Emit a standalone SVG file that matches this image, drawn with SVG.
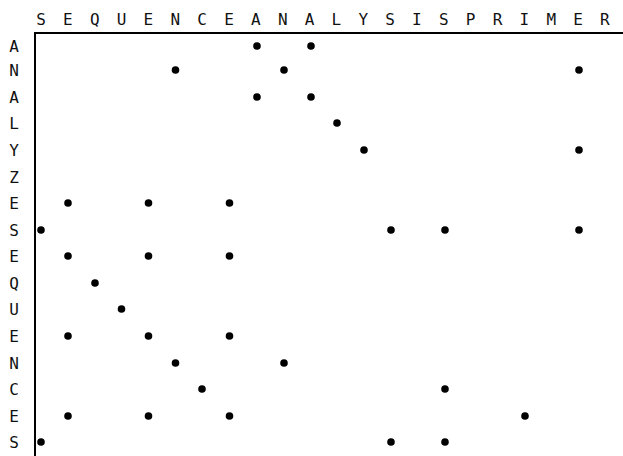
<svg xmlns="http://www.w3.org/2000/svg" width="623" height="456" viewBox="0 0 623 456">
  <style>
    .lbl { font-family: "DejaVu Sans Mono", "Liberation Mono", monospace; font-size: 16px; fill: #111; text-anchor: middle; }
    .axis { stroke: #000; stroke-width: 2; fill: none; }
    .dot { fill: #000; }
  </style>
  <rect width="623" height="456" fill="#fff"/>
  <!-- column sequence -->
  <g id="top-sequence" class="lbl">
    <text x="41" y="25">S</text>
    <text x="67.9" y="25">E</text>
    <text x="94.7" y="25">Q</text>
    <text x="121.6" y="25">U</text>
    <text x="148.4" y="25">E</text>
    <text x="175.3" y="25">N</text>
    <text x="202.1" y="25">C</text>
    <text x="229" y="25">E</text>
    <text x="255.8" y="25">A</text>
    <text x="282.7" y="25">N</text>
    <text x="309.5" y="25">A</text>
    <text x="336.4" y="25">L</text>
    <text x="363.2" y="25">Y</text>
    <text x="390.1" y="25">S</text>
    <text x="416.9" y="25">I</text>
    <text x="443.8" y="25">S</text>
    <text x="470.6" y="25">P</text>
    <text x="497.5" y="25">R</text>
    <text x="524.3" y="25">I</text>
    <text x="551.2" y="25">M</text>
    <text x="578" y="25">E</text>
    <text x="604.9" y="25">R</text>
  </g>
  <!-- row sequence -->
  <g id="left-sequence" class="lbl">
    <text x="14" y="52">A</text>
    <text x="14" y="76">N</text>
    <text x="14" y="103">A</text>
    <text x="14" y="129">L</text>
    <text x="14" y="156">Y</text>
    <text x="14" y="183">Z</text>
    <text x="14" y="209">E</text>
    <text x="14" y="236">S</text>
    <text x="14" y="262">E</text>
    <text x="14" y="289">Q</text>
    <text x="14" y="315">U</text>
    <text x="14" y="342">E</text>
    <text x="14" y="369">N</text>
    <text x="14" y="395">C</text>
    <text x="14" y="422">E</text>
    <text x="14" y="448">S</text>
  </g>
  <!-- axes -->
  <g id="axes">
    <path class="axis" d="M35 456 V33 H623"/>
  </g>
  <!-- match dots -->
  <g id="dots" class="dot">
    <circle cx="257" cy="46" r="3.8"/>
    <circle cx="311" cy="46" r="3.8"/>

    <circle cx="175.5" cy="70" r="3.8"/>
    <circle cx="284" cy="70" r="3.8"/>
    <circle cx="579" cy="70" r="3.8"/>

    <circle cx="257" cy="97" r="3.8"/>
    <circle cx="311" cy="97" r="3.8"/>

    <circle cx="337" cy="123" r="3.8"/>

    <circle cx="364" cy="150" r="3.8"/>
    <circle cx="579" cy="150" r="3.8"/>

    <circle cx="68" cy="203" r="3.8"/>
    <circle cx="148.5" cy="203" r="3.8"/>
    <circle cx="229.5" cy="203" r="3.8"/>

    <circle cx="41" cy="230" r="3.8"/>
    <circle cx="391" cy="230" r="3.8"/>
    <circle cx="445" cy="230" r="3.8"/>
    <circle cx="579" cy="230" r="3.8"/>

    <circle cx="68" cy="256" r="3.8"/>
    <circle cx="148.5" cy="256" r="3.8"/>
    <circle cx="229.5" cy="256" r="3.8"/>

    <circle cx="95" cy="283" r="3.8"/>

    <circle cx="121.5" cy="309" r="3.8"/>

    <circle cx="68" cy="336" r="3.8"/>
    <circle cx="148.5" cy="336" r="3.8"/>
    <circle cx="229.5" cy="336" r="3.8"/>

    <circle cx="175.5" cy="363" r="3.8"/>
    <circle cx="284" cy="363" r="3.8"/>

    <circle cx="202" cy="389" r="3.8"/>
    <circle cx="445" cy="389" r="3.8"/>

    <circle cx="68" cy="416" r="3.8"/>
    <circle cx="148.5" cy="416" r="3.8"/>
    <circle cx="229.5" cy="416" r="3.8"/>
    <circle cx="525" cy="416" r="3.8"/>

    <circle cx="41" cy="442" r="3.8"/>
    <circle cx="391" cy="442" r="3.8"/>
    <circle cx="445" cy="442" r="3.8"/>
  </g>
</svg>
